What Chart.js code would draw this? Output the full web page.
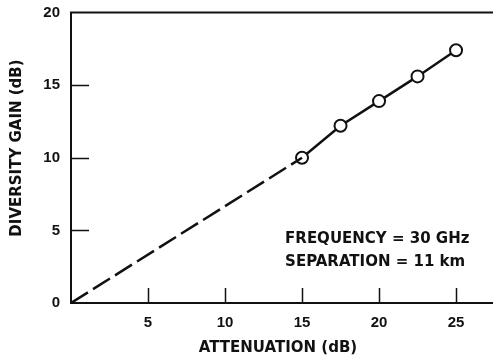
<!DOCTYPE html>
<html>
<head>
<meta charset="utf-8">
<script src="https://cdn.jsdelivr.net/npm/chart.js@4/dist/chart.umd.min.js"></script>
<style>
  html, body { margin: 0; padding: 0; background: #fff; }
  #wrap { width: 493px; height: 361px; position: relative; }
</style>
</head>
<body>
<div id="wrap"><canvas id="c"></canvas></div>
<script>
// Measured diversity gain versus single-site attenuation
const attenuation = [15, 17.5, 20, 22.5, 25];
const diversityGain = [10.0, 12.2, 13.9, 15.6, 17.4];

// Extrapolated portion toward the origin (dashed)
const extrapAttenuation = [0, 15];
const extrapGain = [0, 10];

// Axis ticks
const xTickValues = [5, 10, 15, 20, 25];
const yTickValues = [0, 5, 10, 15, 20];

const xTitle = 'ATTENUATION (dB)';
const yTitle = 'DIVERSITY GAIN (dB)';
const noteLines = ['FREQUENCY = 30 GHz', 'SEPARATION = 11 km'];

const INK = '#111';
const TICK_FONT = { family: '"Liberation Sans", Arial, sans-serif', size: 15, weight: 'bold' };
const TEXT_FONT = 'bold 15px "DejaVu Sans", sans-serif';

const toPoints = (xs, ys) => xs.map((x, i) => ({ x, y: ys[i] }));

// Inward tick marks, top frame line, axis titles and the note
const decorations = {
  id: 'decorations',
  afterDraw(chart) {
    const { ctx, chartArea: a, scales: { x, y } } = chart;
    ctx.save();
    ctx.strokeStyle = INK;
    ctx.lineWidth = 2;
    ctx.beginPath();
    ctx.moveTo(a.left - 1, a.top);
    ctx.lineTo(a.right, a.top);
    ctx.stroke();

    ctx.lineWidth = 1.5;
    ctx.beginPath();
    x.ticks.forEach(t => {
      const px = Math.round(x.getPixelForValue(t.value)) + 0.5;
      ctx.moveTo(px, a.bottom);
      ctx.lineTo(px, a.bottom - 15);
    });
    y.ticks.forEach(t => {
      if (t.value <= 0 || t.value >= 20) return;
      const py = Math.round(y.getPixelForValue(t.value)) + 0.5;
      ctx.moveTo(a.left, py);
      ctx.lineTo(a.left + 18, py);
    });
    ctx.stroke();

    ctx.fillStyle = INK;
    ctx.font = TEXT_FONT;
    ctx.textBaseline = 'middle';

    ctx.textAlign = 'center';
    ctx.fillText(xTitle, (a.left + a.right) / 2 - 4, 348);

    ctx.save();
    ctx.translate(17, 148);
    ctx.rotate(-Math.PI / 2);
    ctx.fillText(yTitle, 0, 0);
    ctx.restore();

    ctx.textAlign = 'left';
    const nx = x.getPixelForValue(13.9);
    ctx.fillText(noteLines[0], nx, y.getPixelForValue(4.4));
    ctx.fillText(noteLines[1], nx, y.getPixelForValue(2.8));
    ctx.restore();
  }
};

new Chart(document.getElementById('c'), {
  type: 'scatter',
  data: {
    datasets: [
      {
        data: toPoints(extrapAttenuation, extrapGain),
        showLine: true,
        borderColor: INK,
        borderWidth: 2.5,
        borderDash: [20, 6],
        pointRadius: 0,
        pointHoverRadius: 0
      },
      {
        data: toPoints(attenuation, diversityGain),
        showLine: true,
        borderColor: INK,
        borderWidth: 2.5,
        pointRadius: 6,
        pointHoverRadius: 6,
        pointBorderWidth: 2,
        pointBackgroundColor: '#fff',
        pointBorderColor: INK
      }
    ]
  },
  options: {
    responsive: true,
    maintainAspectRatio: false,
    animation: false,
    events: [],
    layout: { autoPadding: false, padding: { top: 12.5, right: 0, left: 0, bottom: 0 } },
    plugins: { legend: { display: false }, tooltip: { enabled: false } },
    scales: {
      x: {
        type: 'linear',
        min: 0,
        max: 27.4,
        afterBuildTicks: s => { s.ticks = xTickValues.map(v => ({ value: v })); },
        afterFit: s => { s.height = 58; s.paddingLeft = 0; s.paddingRight = 0; },
        grid: { display: false, drawTicks: false },
        border: { display: true, color: INK, width: 2 },
        ticks: { color: INK, font: TICK_FONT, padding: 11, maxRotation: 0 }
      },
      y: {
        type: 'linear',
        min: 0,
        max: 20,
        afterBuildTicks: s => { s.ticks = yTickValues.map(v => ({ value: v })); },
        afterFit: s => { s.width = 71; s.paddingTop = 0; s.paddingBottom = 0; },
        grid: { display: false, drawTicks: false },
        border: { display: true, color: INK, width: 2 },
        ticks: { color: INK, font: TICK_FONT, padding: 11 }
      }
    }
  },
  plugins: [decorations]
});
</script>
</body>
</html>
